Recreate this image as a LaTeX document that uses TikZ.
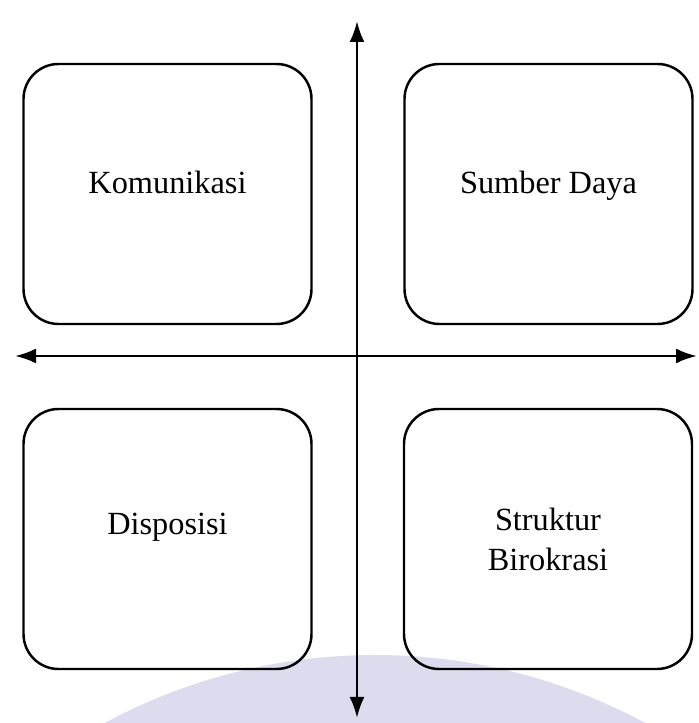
\documentclass[tikz,border=0pt]{standalone}
\usepackage{fontspec}
\setmainfont{Liberation Serif}
\usepackage{xcolor}
\usetikzlibrary{arrows.meta, positioning}
\definecolor{wmark}{RGB}{221,219,238}

\begin{document}
\begin{tikzpicture}[
    >={Latex[length=0.42cm, width=0.3cm]},
    quad/.style={rectangle, rounded corners=0.7cm, draw=black, line width=1.4pt, minimum width=5.76cm, minimum height=5.2cm, align=center, font=\fontsize{18.4}{22.8}\selectfont},
    axis/.style={<->, line width=1.6pt}
]
\useasboundingbox (0,0) rectangle (13.96,14.46);

% Faint watermark at the bottom
\begin{scope}
\clip (0,0) rectangle (13.96,14.46);
\fill[wmark] (7.5,-10.04) circle (11.4cm);
\end{scope}

% Four factor boxes
\node[quad] (kom) at (3.35, 10.58) {\raisebox{0.46cm}{Komunikasi}};
\node[quad] (sdm) at (10.97, 10.58) {\raisebox{0.46cm}{Sumber Daya}};
\node[quad] (dis) at (3.35, 3.68) {\raisebox{0.6cm}{Disposisi}};
\node[quad] (bir) at (10.96, 3.68) {Struktur\\Birokrasi};

% Axis end points
\coordinate (top) at (7.14, 14.04);
\coordinate (bottom) at (7.14, 0.1);
\coordinate (left) at (0.3, 7.34);
\coordinate (right) at (13.94, 7.34);

% Axes
\draw[axis] (bottom) -- (top);
\draw[axis] (left) -- (right);

\end{tikzpicture}
\end{document}
